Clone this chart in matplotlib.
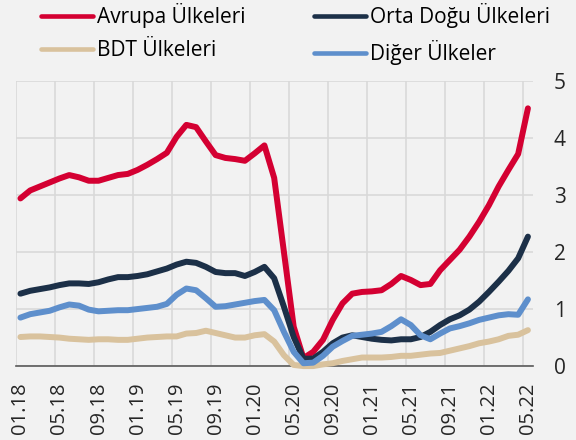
import matplotlib
matplotlib.use("Agg")
import matplotlib.pyplot as plt
from matplotlib.lines import Line2D
import numpy as np

# monthly, 01.18 .. 05.22
months = [f"{m:02d}.{y % 100:02d}" for y in range(2018, 2023) for m in range(1, 13)][:53]

avrupa = [2.94, 3.08, 3.15, 3.22, 3.29, 3.35, 3.31, 3.25, 3.25, 3.30,
          3.35, 3.37, 3.44, 3.53, 3.63, 3.74, 4.02, 4.23, 4.19, 3.94,
          3.70, 3.65, 3.63, 3.60, 3.73, 3.87, 3.30, 2.00, 0.69, 0.14,
          0.25, 0.46, 0.81, 1.10, 1.27, 1.30, 1.31, 1.33, 1.44, 1.58,
          1.51, 1.42, 1.44, 1.68, 1.86, 2.04, 2.27, 2.53, 2.82, 3.15,
          3.44, 3.72, 4.52]
orta_dogu = [1.27, 1.32, 1.35, 1.38, 1.42, 1.45, 1.45, 1.44, 1.47, 1.52,
             1.56, 1.56, 1.58, 1.61, 1.66, 1.71, 1.78, 1.83, 1.81, 1.74,
             1.65, 1.63, 1.63, 1.58, 1.65, 1.74, 1.54, 1.04, 0.51, 0.13,
             0.13, 0.25, 0.40, 0.50, 0.54, 0.51, 0.48, 0.46, 0.45, 0.47,
             0.47, 0.51, 0.60, 0.72, 0.82, 0.89, 0.99, 1.13, 1.30, 1.48,
             1.67, 1.89, 2.27]
bdt = [0.51, 0.52, 0.52, 0.51, 0.50, 0.48, 0.47, 0.46, 0.47, 0.47,
       0.46, 0.46, 0.48, 0.50, 0.51, 0.52, 0.52, 0.57, 0.58, 0.62,
       0.58, 0.54, 0.50, 0.50, 0.54, 0.56, 0.43, 0.19, 0.02, 0.00,
       0.00, 0.03, 0.05, 0.09, 0.12, 0.15, 0.15, 0.15, 0.16, 0.18,
       0.18, 0.20, 0.22, 0.23, 0.27, 0.31, 0.35, 0.40, 0.43, 0.47,
       0.53, 0.55, 0.63]
diger = [0.85, 0.91, 0.94, 0.97, 1.03, 1.08, 1.06, 0.99, 0.96, 0.97,
         0.98, 0.98, 1.00, 1.02, 1.04, 1.09, 1.25, 1.36, 1.33, 1.19,
         1.04, 1.05, 1.08, 1.11, 1.14, 1.16, 0.98, 0.60, 0.25, 0.05,
         0.06, 0.18, 0.34, 0.44, 0.53, 0.55, 0.57, 0.60, 0.70, 0.82,
         0.72, 0.54, 0.47, 0.57, 0.66, 0.70, 0.75, 0.81, 0.85, 0.89,
         0.91, 0.90, 1.17]

labels = ["Avrupa Ülkeleri", "Orta Doğu Ülkeleri", "BDT Ülkeleri", "Diğer Ülkeler"]
colors = ["#d40032", "#1c3048", "#d9c29d", "#5e8fcc"]

plt.rcParams["font.family"] = ["Open Sans", "DejaVu Sans"]
bg = "#f2f2f2"

fig = plt.figure(figsize=(5.76, 4.4), dpi=100, facecolor=bg)
ax = fig.add_axes([0.027, 0.168, 0.898, 0.648], facecolor=bg)

x = np.arange(len(months))
for name, vals, c in zip(labels, [avrupa, orta_dogu, bdt, diger], colors):
    ax.plot(x, vals, color=c, lw=4.3, solid_capstyle="round",
            solid_joinstyle="round", clip_on=False, zorder=3, label=name)

ax.set_xlim(-0.5, len(months) - 0.5)
ax.set_ylim(0, 5)

# category gridlines sit between months, every 4
ax.set_xticks(np.arange(-0.5, len(months) - 1, 4), minor=True)
ax.set_xticks(np.arange(0, len(months), 4))
ax.set_xticklabels(months[::4], rotation=90, fontsize=14.5, color="#262626")
ax.grid(which="minor", axis="x", color="#d9d9d9", lw=1.2)
ax.grid(which="major", axis="y", color="#d9d9d9", lw=1.2)
ax.tick_params(which="both", length=0)
ax.tick_params(axis="x", pad=12)

ax.yaxis.tick_right()
ax.set_yticks(range(6))
ax.tick_params(axis="y", labelsize=15, labelcolor="#262626", pad=15)

for s in ["top", "left", "right"]:
    ax.spines[s].set_visible(False)
ax.spines["bottom"].set_color("#595959")
ax.spines["bottom"].set_linewidth(1.2)

# legend fills column-wise, so reorder to get two rows
cmap = dict(zip(labels, colors))
order = ["Avrupa Ülkeleri", "BDT Ülkeleri", "Orta Doğu Ülkeleri", "Diğer Ülkeler"]
handles = [Line2D([], [], color=cmap[n], lw=3.3, solid_capstyle="round") for n in order]
fig.legend(handles, order, ncol=2, loc="upper left",
           bbox_to_anchor=(0.038, 1.035), frameon=False, fontsize=15,
           handlelength=2.5, handletextpad=0.2, columnspacing=3.3,
           labelspacing=0.55)

fig.savefig("out.png", dpi=100, facecolor=bg)
